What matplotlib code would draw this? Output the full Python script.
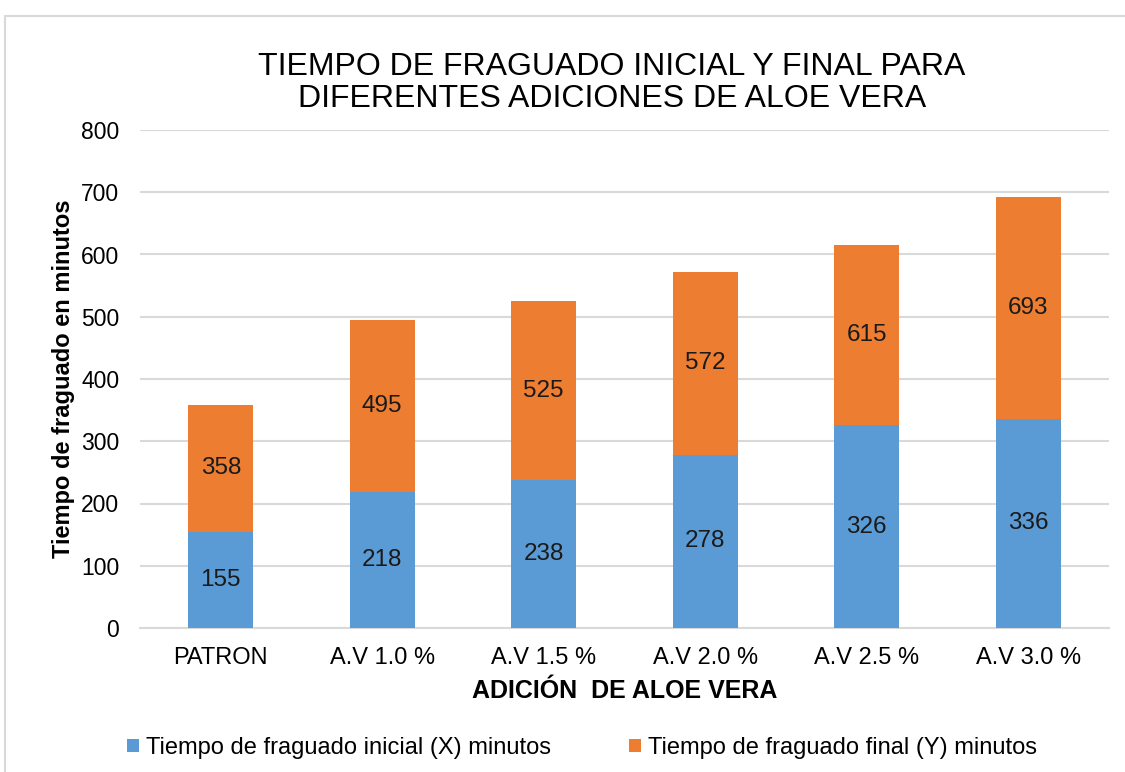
import matplotlib
matplotlib.use("Agg")
import matplotlib.pyplot as plt
from matplotlib.patches import Rectangle

plt.rcParams['font.family'] = ['Liberation Sans', 'DejaVu Sans']

categorias = ["PATRON", "A.V 1.0 %", "A.V 1.5 %", "A.V 2.0 %", "A.V 2.5 %", "A.V 3.0 %"]
inicial = [155, 218, 238, 278, 326, 336]
final = [358, 495, 525, 572, 615, 693]

azul = "#5B9BD5"
naranja = "#ED7D31"

fig = plt.figure(figsize=(11.25, 7.72), dpi=100)
ax = fig.add_axes([140 / 1125, 1 - 628 / 772, 969 / 1125, 498 / 772])

# marco del grafico
fig.patches.append(Rectangle((5 / 1125, -0.05), 1.2, (1 - 16 / 772) + 0.05,
                             transform=fig.transFigure, fill=False,
                             edgecolor="#D9D9D9", linewidth=1.5))

x = range(len(categorias))
resto = [f - i for f, i in zip(final, inicial)]
b1 = ax.bar(x, inicial, width=0.4, color=azul, label="Tiempo de fraguado inicial (X) minutos", zorder=3)
b2 = ax.bar(x, resto, bottom=inicial, width=0.4, color=naranja, label="Tiempo de fraguado final (Y) minutos", zorder=3)

for xi, i, f in zip(x, inicial, final):
    ax.text(xi, i / 2, str(i), ha="center", va="center", fontsize=17.5, color="#1a1a1a", zorder=4)
    ax.text(xi, (i + f) / 2, str(f), ha="center", va="center", fontsize=17.5, color="#1a1a1a", zorder=4)

ax.set_xlim(-0.5, len(categorias) - 0.5)
ax.set_ylim(0, 800)
ax.set_yticks(range(0, 801, 100))
ax.set_xticks(list(x))
ax.set_xticklabels(categorias, fontsize=17)
ax.tick_params(axis="y", labelsize=16.5, length=0, pad=15)
ax.tick_params(axis="x", length=0, pad=14)
ax.grid(axis="y", color="#D9D9D9", linewidth=1.5, zorder=0)
for s in ["top", "right", "left"]:
    ax.spines[s].set_visible(False)
ax.spines["bottom"].set_color("#D9D9D9")
ax.spines["bottom"].set_linewidth(1.5)

ax.set_ylabel("Tiempo de fraguado en minutos", fontsize=17, fontweight="bold", labelpad=4)
ax.set_xlabel("ADICIÓN  DE ALOE VERA", fontsize=18, fontweight="bold", labelpad=7)

fig.text(612 / 1125, 1 - 83 / 772, "TIEMPO DE FRAGUADO INICIAL Y FINAL PARA\nDIFERENTES ADICIONES DE ALOE VERA",
         ha="center", va="center", fontsize=23, linespacing=1.05)

fig.legend(handles=[b1, b2], loc="center", bbox_to_anchor=(582 / 1125, 1 - 748 / 772), ncol=2,
           frameon=False, fontsize=17, handlelength=0.5, handleheight=0.5, columnspacing=3.3,
           handletextpad=0.3)

fig.savefig("out.png", dpi=100)
